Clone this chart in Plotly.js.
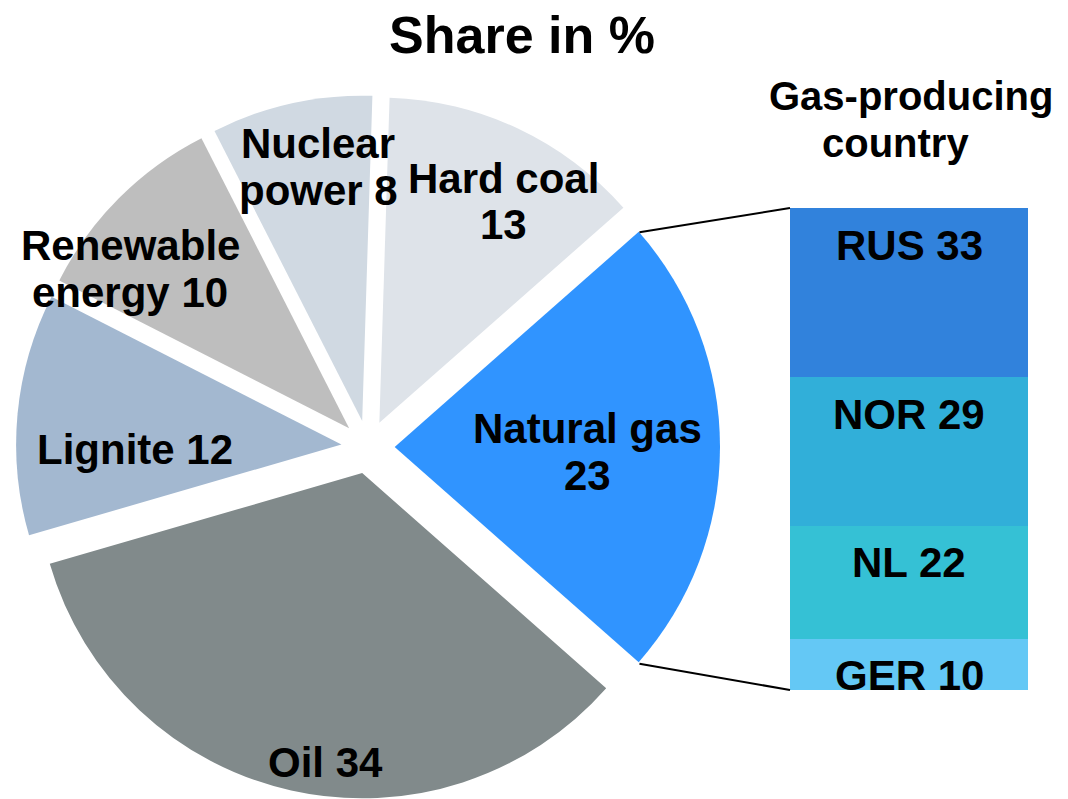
<!DOCTYPE html>
<html>
<head>
<meta charset="utf-8">
<script src="https://cdn.plot.ly/plotly-3.0.1.min.js"></script>
<style>
  html, body { margin: 0; padding: 0; background: #fff; }
  #chart { width: 1068px; height: 799px; }
</style>
</head>
<body>
<div id="chart"></div>
<script>
// energy mix, share in %
const sources = ['Natural gas', 'Oil', 'Lignite', 'Renewable|energy', 'Nuclear|power', 'Hard coal'];
const shares = [23, 34, 12, 10, 8, 13];
const valueOnNewLine = [true, false, false, false, false, true];
const sourceColors = ['#3094ff', '#818a8b', '#a3b8d0', '#bebebe', '#d0d9e2', '#dee3e9'];

// gas by producing country, bottom to top
const countries = ['GER', 'NL', 'NOR', 'RUS'];
const countryShares = [10, 22, 29, 33];
const countryColors = ['#64c8f5', '#35c1d5', '#31afd9', '#3182dc'];

const W = 1068, H = 799;
const px = x => x / W;
const py = y => 1 - y / H;

// label spots (pixel centres of the first line)
const labelPos = [[587, 429], [325, 762], [135, 450], [130, 246], [318, 144], [503, 178]];
const lineGap = 46;
const FONT = 'Liberation Sans, Arial, sans-serif';

const pieCenter = [368, 448];
const pieHalf = 353;
const pull = 0.082;

const barX = [790 / W, 1028 / W];
const barY = [py(690), py(208)];
const gasTotal = countryShares.reduce((a, b) => a + b, 0);

const traces = [{
    type: 'pie',
    labels: sources.map(s => s.replace('|', ' ')),
    values: shares,
    sort: false,
    direction: 'clockwise',
    rotation: 90 - shares[0] / 100 * 180,
    pull: shares.map(() => pull),
    marker: { colors: sourceColors, line: { width: 0 } },
    textinfo: 'none',
    hoverinfo: 'label+value',
    domain: {
        x: [px(pieCenter[0] - pieHalf), px(pieCenter[0] + pieHalf)],
        y: [Math.max(0, py(pieCenter[1] + pieHalf)), py(pieCenter[1] - pieHalf)]
    }
}];

countries.forEach((c, i) => {
    traces.push({
        type: 'bar',
        x: ['gas'],
        y: [countryShares[i]],
        width: 1,
        name: c,
        marker: { color: countryColors[i], line: { width: 0 } },
        hoverinfo: 'name+y'
    });
});

const annotations = [];
const txtFont = { family: FONT, size: 42, color: '#000', weight: 'bold' };

sources.forEach((s, i) => {
    const text = s.replace('|', '<br>') + (valueOnNewLine[i] ? '<br>' : ' ') + shares[i];
    text.split('<br>').forEach((line, j) => {
        annotations.push({
            xref: 'paper', yref: 'paper',
            x: px(labelPos[i][0]), y: py(labelPos[i][1] + j * lineGap),
            xanchor: 'center', yanchor: 'middle',
            text: line, showarrow: false, font: txtFont
        });
    });
});

// bar labels sit near the top of each block
let cum = 0;
countries.forEach((c, i) => {
    cum += countryShares[i];
    annotations.push({
        xref: 'x', yref: 'y', x: 'gas', y: cum,
        yshift: -37, xanchor: 'center', yanchor: 'middle',
        text: c + ' ' + countryShares[i], showarrow: false, font: txtFont
    });
});

['Gas-producing', 'country'].forEach((line, j) => {
    annotations.push({
        xref: 'paper', yref: 'paper',
        x: px(j === 0 ? 911 : 895), y: py(96 + j * 47),
        xanchor: 'center', yanchor: 'middle',
        text: line, showarrow: false,
        font: { family: FONT, size: 40, color: '#000', weight: 'bold' }
    });
});

// connector lines from the gas slice corners to the bar
const R = pieHalf / (1 + pull);
const apexX = pieCenter[0] + pull * R;
const half = shares[0] / 100 * Math.PI;
const cornerX = apexX + R * Math.cos(half);
const shapes = [
    { type: 'line', xref: 'paper', yref: 'paper',
      x0: px(cornerX), y0: py(pieCenter[1] - R * Math.sin(half)), x1: barX[0], y1: barY[1],
      line: { color: '#000', width: 2 } },
    { type: 'line', xref: 'paper', yref: 'paper',
      x0: px(cornerX), y0: py(pieCenter[1] + R * Math.sin(half)), x1: barX[0], y1: barY[0],
      line: { color: '#000', width: 2 } }
];

Plotly.newPlot('chart', traces, {
    width: W,
    height: H,
    margin: { t: 0, r: 0, b: 0, l: 0 },
    paper_bgcolor: '#fff',
    plot_bgcolor: 'rgba(0,0,0,0)',
    showlegend: false,
    barmode: 'stack',
    bargap: 0,
    title: {
        text: 'Share in %',
        x: px(522), xanchor: 'center',
        y: py(35), yanchor: 'middle',
        font: { family: FONT, size: 52, color: '#000', weight: 'bold' }
    },
    xaxis: { domain: barX, range: [-0.5, 0.5], visible: false, fixedrange: true },
    yaxis: { domain: barY, range: [0, gasTotal], visible: false, fixedrange: true },
    annotations: annotations,
    shapes: shapes
}, { displayModeBar: false, staticPlot: true });
</script>
</body>
</html>
